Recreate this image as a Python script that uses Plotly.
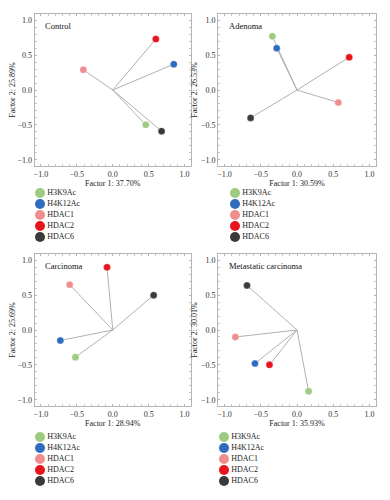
import plotly.graph_objects as go

SERIES = ["H3K9Ac", "H4K12Ac", "HDAC1", "HDAC2", "HDAC6"]
COLORS = ["#9dcb7f", "#2f6cc0", "#f08d8d", "#e8141c", "#3a3a3a"]

PANELS = ["Control", "Adenoma", "Carcinoma", "Metastatic carcinoma"]
F1_LABELS = ["Factor 1: 37.70%", "Factor 1: 30.59%", "Factor 1: 28.94%", "Factor 1: 35.93%"]
F2_LABELS = ["Factor 2: 25.89%", "Factor 2: 26.53%", "Factor 2: 25.69%", "Factor 2: 30.01%"]
TICKS = [-1.0, -0.5, 0.0, 0.5, 1.0]

control_f1 = [0.46, 0.85, -0.41, 0.60, 0.68]
control_f2 = [-0.50, 0.37, 0.29, 0.73, -0.59]
adenoma_f1 = [-0.34, -0.28, 0.57, 0.72, -0.64]
adenoma_f2 = [0.77, 0.60, -0.18, 0.47, -0.40]
carcinoma_f1 = [-0.52, -0.73, -0.60, -0.08, 0.57]
carcinoma_f2 = [-0.39, -0.15, 0.65, 0.90, 0.50]
metastatic_f1 = [0.16, -0.58, -0.85, -0.38, -0.69]
metastatic_f2 = [-0.88, -0.48, -0.10, -0.50, 0.64]

DATA = [(control_f1, control_f2), (adenoma_f1, adenoma_f2),
        (carcinoma_f1, carcinoma_f2), (metastatic_f1, metastatic_f2)]

PAGE_MARGIN = 8  # default body margin of the html page
W, H = 390 - 2 * PAGE_MARGIN, 500 - 2 * PAGE_MARGIN
FONT = "Liberation Serif, Times New Roman, serif"

# panel plot boxes in page pixels: (left, right, top, bottom)
BOXES = [(34.5, 191, 14, 166), (218, 376, 14, 166),
         (34.5, 191, 254, 406), (218, 376, 254, 406)]
# legend boxes: (marker_x_px, top_px)
LEG = [(40, 187.5), (235, 187.5), (40, 431.5), (224, 431.5)]
ROW = 11

fig = go.Figure()
layout = {}


def px_x(v):
    return (v - PAGE_MARGIN) / W


def px_y(v):
    return 1 - (v - PAGE_MARGIN) / H


for i, (name, (f1, f2)) in enumerate(zip(PANELS, DATA)):
    n = i + 1
    xa = "x" if n == 1 else f"x{n}"
    ya = "y" if n == 1 else f"y{n}"
    for s, c, a, b in zip(SERIES, COLORS, f1, f2):
        fig.add_trace(go.Scatter(x=[0, a], y=[0, b], mode="lines",
                                 line=dict(color="#a8a8a8", width=0.9),
                                 xaxis=xa, yaxis=ya, showlegend=False,
                                 hoverinfo="skip"))
    fig.add_trace(go.Scatter(x=f1, y=f2, mode="markers", text=SERIES,
                             marker=dict(color=COLORS, size=7,
                                         line=dict(color="rgba(255,255,255,0.6)", width=0.5)),
                             xaxis=xa, yaxis=ya, showlegend=False))
    l, r, t, b = BOXES[i]
    axcommon = dict(range=[-1.09, 1.09], tickvals=TICKS, tickformat=".1f",
                    showgrid=False, zeroline=False, showline=True, mirror="allticks",
                    linecolor="#b5b5b5", linewidth=1, ticks="inside", ticklen=2,
                    tickcolor="#b5b5b5",
                    minor=dict(dtick=0.1, ticks="inside", ticklen=2, tickcolor="#c8c8c8"),
                    tickfont=dict(family=FONT, size=8, color="#333"),
                    automargin=False)
    layout["xaxis" if n == 1 else f"xaxis{n}"] = dict(
        axcommon, domain=[px_x(l), px_x(r)], anchor=ya,
        title=dict(text=F1_LABELS[i], font=dict(family=FONT, size=8, color="#222"), standoff=2))
    layout["yaxis" if n == 1 else f"yaxis{n}"] = dict(
        axcommon, domain=[px_y(b), px_y(t)], anchor=xa,
        title=dict(text=F2_LABELS[i], font=dict(family=FONT, size=8, color="#222"), standoff=2))
    fig.add_annotation(text=name, xref=f"{xa} domain", yref=f"{ya} domain",
                       x=0.055, y=0.92, xanchor="left", yanchor="middle", showarrow=False,
                       font=dict(family=FONT, size=8.5, color="#111"))

    # legend drawn as a small categorical axis
    lx, lt = LEG[i]
    lxa, lya = f"x{n + 4}", f"y{n + 4}"
    fig.add_trace(go.Scatter(x=[0 for _ in SERIES], y=SERIES, mode="markers+text",
                             text=SERIES, textposition="middle right",
                             textfont=dict(family=FONT, size=8, color="#222"),
                             marker=dict(color=COLORS, size=10),
                             xaxis=lxa, yaxis=lya, showlegend=False, hoverinfo="skip"))
    layout[f"xaxis{n + 4}"] = dict(domain=[px_x(lx - 10), px_x(lx + 110)], range=[-1, 11],
                                   visible=False, fixedrange=True, anchor=lya)
    layout[f"yaxis{n + 4}"] = dict(domain=[px_y(lt + ROW * len(SERIES)), px_y(lt)],
                                   range=[len(SERIES) - 0.5, -0.5], type="category",
                                   categoryorder="array", categoryarray=SERIES,
                                   visible=False, fixedrange=True, anchor=lxa)

fig.update_layout(width=W, height=H, margin=dict(l=0, r=0, t=0, b=0),
                  paper_bgcolor="white", plot_bgcolor="white",
                  showlegend=False, **layout)
fig.write_html("out.html")
